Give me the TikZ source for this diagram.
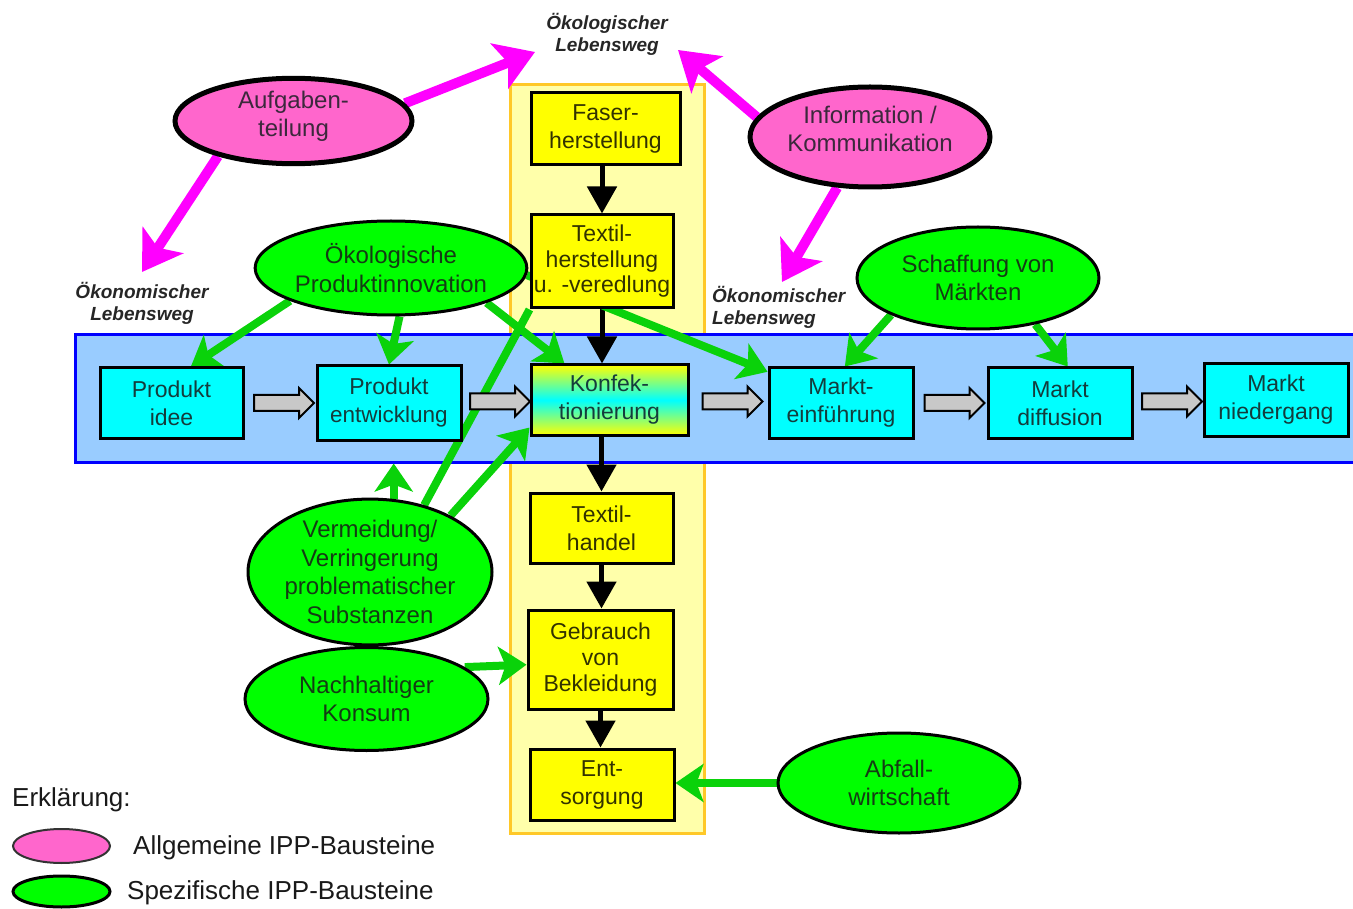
\documentclass[tikz,border=0pt]{standalone}
\usepackage{fontspec}
\setmainfont{Liberation Sans}
\usetikzlibrary{arrows.meta,shapes.geometric,shapes.arrows,calc}
\pgfdeclarelayer{bg}
\pgfdeclarelayer{arr}
\pgfsetlayers{bg,arr,main}
\definecolor{pinkfill}{RGB}{255,102,204}
\definecolor{greenfill}{RGB}{0,255,0}
\definecolor{greenarr}{RGB}{10,210,10}
\definecolor{magarr}{RGB}{255,0,255}
\definecolor{cyanfill}{RGB}{0,255,255}
\definecolor{yellowfill}{RGB}{255,255,0}
\definecolor{colfill}{RGB}{255,255,170}
\definecolor{colborder}{RGB}{255,200,40}
\definecolor{bandfill}{RGB}{153,204,255}
\definecolor{bandborder}{RGB}{0,0,255}
\definecolor{graybody}{RGB}{200,200,200}
\definecolor{cyantext}{RGB}{20,60,60}
\definecolor{yeltext}{RGB}{50,50,0}
\definecolor{greentext}{RGB}{20,60,20}
\definecolor{pinktext}{RGB}{60,40,60}
\begin{document}
\begin{tikzpicture}[x=1pt,y=-1pt,
  boxfont/.style={font=\fontsize{23}{28}\selectfont},
  cbox/.style={draw=black, line width=3pt, fill=cyanfill, text=cyantext, boxfont, align=center, inner sep=0pt},
  ybox/.style={draw=black, line width=3pt, fill=yellowfill, text=yeltext, boxfont, align=center, inner sep=0pt},
  gell/.style={ellipse, draw=black, line width=3pt, fill=greenfill, text=greentext, font=\fontsize{24}{28.5}\selectfont, align=center, inner sep=0pt},
  pell/.style={ellipse, draw=black, line width=5pt, fill=pinkfill, text=pinktext, font=\fontsize{24}{28.5}\selectfont, align=center, inner sep=0pt},
  lebens/.style={font=\fontsize{19}{22}\selectfont\bfseries\itshape, text=black!85, inner sep=0pt},
  garrow/.style={single arrow, draw=black, fill=graybody, line width=2pt, minimum height=60pt,
    inner xsep=0pt, inner ysep=7pt, single arrow head extend=7pt, single arrow head indent=0pt},
  barrow/.style={line width=5pt, -{Triangle[width=29pt,length=27pt]}},
  grarrow/.style={draw=greenarr, line width=8pt, -{Stealth[width=38pt,length=28pt,inset=7pt]}},
  grline/.style={draw=greenarr, line width=8pt},
  parrow/.style={draw=magarr, line width=10pt, -{Stealth[width=48pt,length=38pt,inset=9pt]}},
  legtext/.style={font=\fontsize{26}{30}\selectfont, text=black!90, anchor=west, inner sep=0pt}
]
\useasboundingbox (0,0) rectangle (1353,909);

% background column and band
\begin{pgfonlayer}{bg}
\node[draw=colborder, line width=3pt, fill=colfill, minimum width=194pt, minimum height=748pt, inner sep=0pt] (col) at (607,459) {};
\node[draw=bandborder, line width=3pt, fill=bandfill, minimum width=1290pt, minimum height=127pt, inner sep=0pt] (band) at (720,398.5) {};
\end{pgfonlayer}

% yellow process boxes
\node[ybox, minimum width=149pt, minimum height=72pt] (faser) at (605.5,129) {Faser-\\herstellung};
\node[ybox, font=\fontsize{23}{25.5}\selectfont, minimum width=142pt, minimum height=93pt] (textil) at (602,261.5) {Textil-\\herstellung\\u. -veredlung};
\node[draw=black, line width=3pt, top color=yellowfill, bottom color=yellowfill, middle color=cyanfill, text=cyantext, boxfont, align=center, inner sep=0pt, minimum width=157pt, minimum height=70pt] (konf) at (609.5,400) {Konfek-\\tionierung};
\node[ybox, minimum width=143pt, minimum height=70pt] (handel) at (601.5,528) {Textil-\\handel};
\node[ybox, font=\fontsize{23}{26}\selectfont, minimum width=145pt, minimum height=99pt] (gebrauch) at (600.5,659.5) {Gebrauch\\von\\Bekleidung};
\node[ybox, minimum width=144pt, minimum height=71pt] (entsorg) at (602,784.5) {Ent-\\sorgung};

% cyan market boxes
\node[cbox, minimum width=143pt, minimum height=70pt] (idee) at (171.5,403) {Produkt\\idee};
\node[cbox, minimum width=144pt, minimum height=74pt] (entw) at (389,403) {Produkt\\{\fontsize{22.5}{28}\selectfont entwicklung}};
\node[cbox, minimum width=144pt, minimum height=70pt] (mark) at (841,403) {Markt-\\einführung};
\node[cbox, minimum width=144pt, minimum height=70pt] (diff) at (1060,403) {Markt\\diffusion};
\node[cbox, minimum width=144pt, minimum height=72pt] (nied) at (1276,400) {Markt\\niedergang};

% gray block arrows
\node[garrow] (ga1) at ($(idee.east)!0.5!(entw.west)$) {};
\node[garrow] (ga2) at ($(entw.east)!0.5!(konf.west)$) {};
\node[garrow] (ga3) at ($(konf.east)!0.5!(mark.west)$) {};
\node[garrow] (ga4) at ($(mark.east)!0.5!(diff.west)$) {};
\node[garrow] (ga5) at ($(diff.east)!0.5!(nied.west)$) {};

% pink ellipses
\node[pell, minimum width=237pt, minimum height=82pt] (aufg) at (293.5,121) {Aufgaben-\\teilung\\[-14pt]\mbox{}};
\node[pell, minimum width=240pt, minimum height=100pt] (info) at (870,137) {Information /\\Kommunikation\\[-12pt]\mbox{}};

% green ellipses
\node[gell, minimum width=248pt, minimum height=94pt] (oeko) at (391,268) {Ökologische\\Produktinnovation};
\node[gell, minimum width=242pt, minimum height=102pt] (schaff) at (978,278) {Schaffung von\\Märkten};
\node[gell, minimum width=244pt, minimum height=130pt] (verm) at (370,572) {Vermeidung/\\Verringerung\\problematischer\\Substanzen};
\node[gell, minimum width=243pt, minimum height=103pt] (nach) at (366.5,699) {Nachhaltiger\\Konsum};
\node[gell, minimum width=242pt, minimum height=100pt] (abfall) at (899,783) {Abfall-\\wirtschaft};

% labels
\node[lebens, align=center] (ecolab) at (607,34) {Ökologischer\\Lebensweg};
\node[lebens, align=center] (lab1) at (142,303) {Ökonomischer\\Lebensweg};
\node[lebens, align=left, anchor=west] (lab2) at (712,307) {Ökonomischer\\Lebensweg};

\coordinate (pt1) at (535,52);
\coordinate (pt2) at (142,272);
\coordinate (pt3) at (678,50);
\coordinate (pt4) at (782,282);

% legend
\node[font=\fontsize{26}{30}\selectfont, text=black!90, anchor=west, inner sep=0pt] (erkl) at (12,800) {Erklärung:};
\node[ellipse, draw=black!80, line width=2pt, fill=pinkfill, minimum width=97pt, minimum height=34pt, inner sep=0pt] (lg1) at (61.5,846) {};
\node[ellipse, draw=black, line width=3pt, fill=greenfill, minimum width=97pt, minimum height=31pt, inner sep=0pt] (lg2) at (61.5,891.5) {};
\node[legtext] (lt1) at (133,848) {Allgemeine IPP-Bausteine};
\node[legtext] (lt2) at (127,893) {Spezifische IPP-Bausteine};

% connectors
\begin{pgfonlayer}{arr}
% black process arrows
\draw[barrow] (faser.south -| textil.north) -- (textil.north);
\draw[barrow] (textil.south) -- (textil.south |- konf.north);
\draw[barrow] (handel.north |- konf.south) -- (handel.north);
\draw[barrow] (handel.south) -- (handel.south |- gebrauch.north);
\draw[barrow] (gebrauch.south) -- (gebrauch.south |- entsorg.north);
% green arrows
\draw[grarrow] (oeko.198) -- (idee.62);
\draw[grarrow] (oeko.280) -- (entw.north);
\draw[grarrow] (oeko.340) -- (konf.141);
\draw[grarrow] (oeko.357) -- (mark.157);
\draw[grarrow] (schaff.203) -- (mark.84);
\draw[grarrow] (schaff.321) -- (diff.78);
\draw[grarrow] (verm.72) -- (verm.72 |- band.south);
\draw[grline] (verm.51) -- (textil.south west);
\draw[grarrow] (verm.35) -- (konf.199);
\draw[grarrow] (nach.18) -- (gebrauch.184);
\draw[grarrow] (abfall.west) -- (abfall.west -| entsorg.east);
% magenta arrows
\draw[parrow] (aufg.9) -- (pt1);
\draw[parrow] (aufg.205) -- (pt2);
\draw[parrow] (info.170) -- (pt3);
\draw[parrow] (info.237) -- (pt4);
\end{pgfonlayer}
\end{tikzpicture}
\end{document}
